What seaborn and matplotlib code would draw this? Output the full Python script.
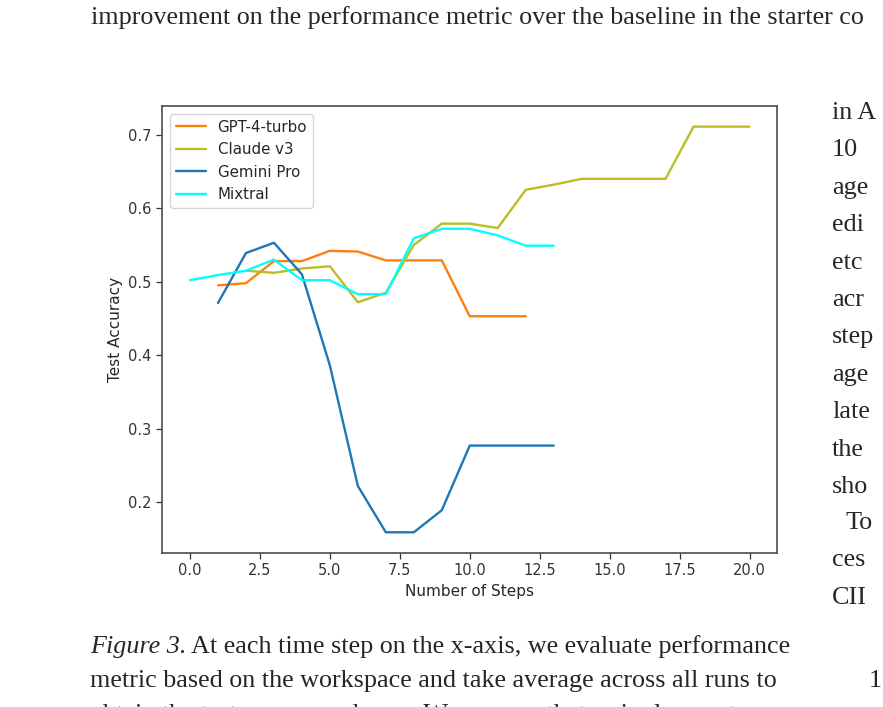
import pandas as pd
import matplotlib
matplotlib.use("Agg")
import matplotlib.pyplot as plt
import seaborn as sns

# Data
gpt_steps = [1, 2, 3, 4, 5, 6, 7, 8, 9, 10, 11, 12]
gpt_acc = [0.495, 0.498, 0.528, 0.528, 0.542, 0.541, 0.529, 0.529, 0.529, 0.453, 0.453, 0.453]

claude_steps = [2, 3, 4, 5, 6, 7, 8, 9, 10, 11, 12, 13, 14, 15, 16, 17, 18, 19, 20]
claude_acc = [0.515, 0.512, 0.518, 0.521, 0.472, 0.485, 0.550, 0.579, 0.579, 0.573,
              0.625, 0.632, 0.640, 0.640, 0.640, 0.640, 0.711, 0.711, 0.711]

gemini_steps = [1, 2, 3, 4, 5, 6, 7, 8, 9, 10, 11, 12, 13]
gemini_acc = [0.471, 0.539, 0.553, 0.510, 0.386, 0.222, 0.159, 0.159, 0.189, 0.277, 0.277, 0.277, 0.277]

mixtral_steps = [0, 1, 2, 3, 4, 5, 6, 7, 8, 9, 10, 11, 12, 13]
mixtral_acc = [0.502, 0.509, 0.515, 0.530, 0.502, 0.502, 0.483, 0.483, 0.559, 0.572, 0.572, 0.563, 0.549, 0.549]

series = [
    ("GPT-4-turbo", gpt_steps, gpt_acc, "tab:orange"),
    ("Claude v3", claude_steps, claude_acc, "tab:olive"),
    ("Gemini Pro", gemini_steps, gemini_acc, "tab:blue"),
    ("Mixtral", mixtral_steps, mixtral_acc, "cyan"),
]

# page text around the figure (cut off at the page edge like the screenshot)
top_line = "improvement on the performance metric over the baseline in the starter co"
right_col = ["in A", "10", "age", "edi", "etc", "acr", "step", "age", "late", "the", "sho"]
right_col2 = ["To", "ces", "CII"]
caption = ["At each time step on the x-axis, we evaluate performance",
           "metric based on the workspace and take average across all runs to",
           "obtain the test accuracy shown. We can see that a single agent"]

sns.set_style("ticks")
plt.rcParams["font.family"] = ["DejaVu Sans"]

fig = plt.figure(figsize=(8.83, 7.07), dpi=100)
ax = fig.add_axes([0.1835, 0.218, 0.697, 0.632])

for name, xs, ys, col in series:
    df = pd.DataFrame({"step": xs, "acc": ys})
    sns.lineplot(data=df, x="step", y="acc", ax=ax, color=col, linewidth=1.7, label=name)

ax.set_xlim(-1, 21)
ax.set_ylim(0.131, 0.739)
ax.set_xticks([0, 2.5, 5, 7.5, 10, 12.5, 15, 17.5, 20])
ax.set_yticks([0.2, 0.3, 0.4, 0.5, 0.6, 0.7])
ax.tick_params(labelsize=10.5, colors="0.2", length=4, width=0.9)
ax.set_xlabel("Number of Steps", fontsize=11, color="0.15")
ax.set_ylabel("Test Accuracy", fontsize=11, color="0.15")
for sp in ax.spines.values():
    sp.set_color("0.3")
    sp.set_linewidth(1.2)
ax.legend(loc="upper left", fontsize=10.8, frameon=True, handlelength=2.0)

serif = "Liberation Serif"
fs = 18.8
fig.text(91 / 883, 1 - 18 / 707, top_line, family=serif, fontsize=fs, va="center", ha="left")

for i, t in enumerate(right_col):
    fig.text(832 / 883, 1 - (113 + i * 37.4) / 707, t, family=serif, fontsize=fs, va="center")
for i, t in enumerate(right_col2):
    fig.text(846 / 883 if i == 0 else 832 / 883, 1 - (523 + i * 37.4) / 707, t,
             family=serif, fontsize=fs, va="center")
fig.text(869 / 883, 1 - 681 / 707, "1", family=serif, fontsize=fs, va="center")

# caption with italic "Figure 3."
renderer = fig.canvas.get_renderer()
lab = fig.text(90 / 883, 1 - 647 / 707, "Figure 3.", family=serif, style="italic", fontsize=fs, va="center")
bb = lab.get_window_extent(renderer=renderer)
fig.text((bb.x1 + 5) / 883, 1 - 647 / 707, caption[0], family=serif, fontsize=fs, va="center")
fig.text(90 / 883, 1 - 681 / 707, caption[1], family=serif, fontsize=fs, va="center")
fig.text(90 / 883, 1 - 715 / 707, caption[2], family=serif, fontsize=fs, va="center")

fig.savefig("out.png", dpi=100)
